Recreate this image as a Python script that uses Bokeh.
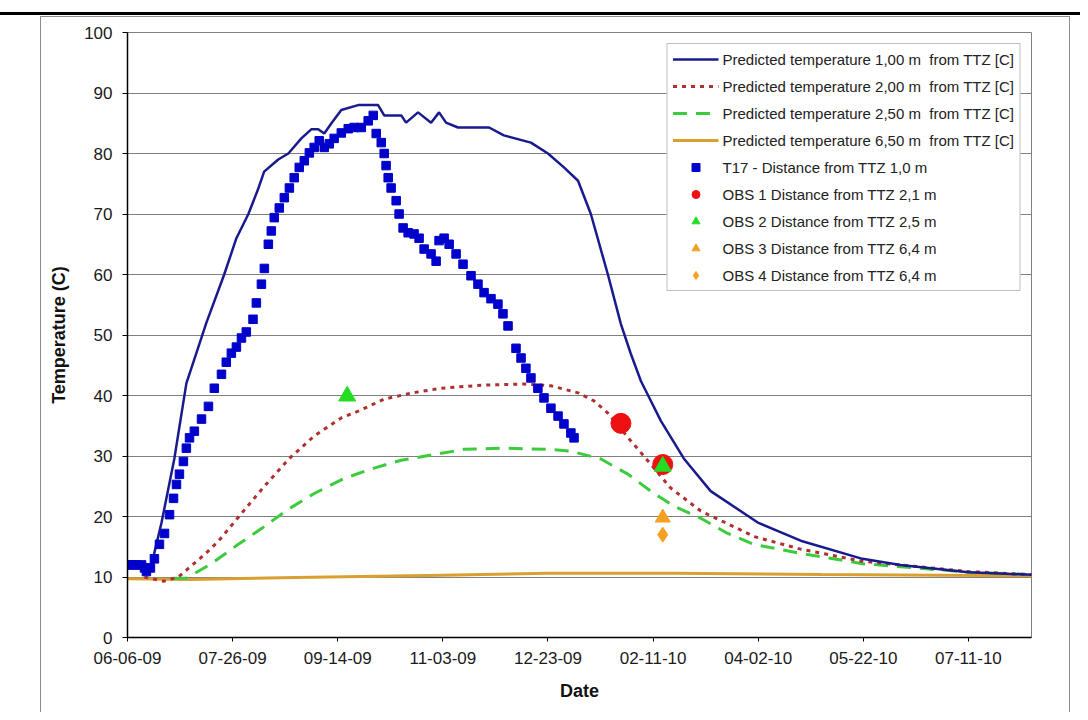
import pandas as pd
from bokeh.plotting import figure
from bokeh.models import (Range1d, FixedTicker, DatetimeTickFormatter, Legend,
                          LegendItem, InlineStyleSheet)
from bokeh.embed import file_html
from bokeh.resources import INLINE

# ---------------- data (days since start_date, temperature C) ----------------
start_date = "2009-06-06"
tick_step_days = 50
n_ticks = 9
axis_end_days = 430

pred1_day = [0, 9, 11.4, 16.2, 22.3, 28, 37.5, 46, 51.8, 57.5, 62, 65, 71.7, 76.5, 82.7,
             87.4, 90.7, 93.6, 97, 101.7, 109.7, 119.2, 122.1, 130.2, 132.5, 138.2,
             144.4, 148.2, 151.5, 157.2, 172, 179, 191.9, 200, 207.6, 214.3, 220.4,
             228.5, 234.7, 239.4, 244.2, 253.7, 264.6, 277.4, 299.8, 320.2, 349.6,
             367.7, 400, 435]
pred1_val = [12, 12, 12, 19, 29.6, 42, 52, 60, 66, 70, 74, 77, 79, 80, 82.5,
             84, 84, 83.3, 85, 87.2, 88, 88, 86.3, 86.3, 85.1, 86.8,
             85.1, 86.8, 85.1, 84.3, 84.3, 83, 81.8, 80, 77.7, 75.5, 70,
             60, 51.8, 46.9, 42.4, 35.8, 29.6, 24.2, 19, 16, 13,
             12, 10.8, 10.3]

pred2_day = [8, 17.1, 24.2, 36.6, 43.2, 54.2, 65.1, 77, 88.8, 101.7, 109.7, 122.1,
             134.9, 149.2, 168.2, 188.6, 201.4, 214.7, 221.9, 228.5, 239.4, 245.6,
             258.4, 272.7, 290.3, 297.9, 320.2, 349.6, 400, 435]
pred2_val = [10, 9.3, 10, 13.7, 15.9, 20.5, 25, 29.6, 33.3, 36.3, 37.4, 39.4,
             40.4, 41.2, 41.7, 41.9, 41.6, 40.4, 39.1, 37.1, 32.5, 30,
             24.7, 20.9, 18, 16.7, 14.6, 12.6, 10.9, 10.3]

pred25_day = [22, 28, 39.9, 52.7, 63.7, 76.5, 88.8, 103.1, 117.3, 130.2, 160.1, 177.7,
              201.4, 210.9, 225.2, 238, 248.9, 259.9, 272.7, 285.5, 297.9, 320.2,
              349.6, 400, 435]
pred25_val = [9.8, 9.8, 12.2, 15.4, 18, 21.2, 23.8, 26.3, 28, 29.3, 31.1, 31.3,
              31.1, 30.8, 29.5, 27, 24.2, 21.7, 19.7, 17.2, 15.4, 13.9,
              12.2, 10.8, 10.3]

pred65_day = [0, 30, 80, 150, 200, 260, 330, 435]
pred65_val = [9.7, 9.6, 9.9, 10.3, 10.6, 10.6, 10.4, 10.2]

t17_day = [0.5, 2.4, 4.3, 6.7, 8.1, 9, 10.9, 12.8, 15.2, 17.6, 20, 21.9, 23.3, 24.7,
           26.6, 28, 29.5, 31.8, 35.2, 38.5, 41.3, 44.7, 47, 49.4, 51.8, 54.2, 56.5,
           59.7, 61.3, 63.7, 65.1, 67, 68.4, 69.8, 72.2, 74.6, 77, 79.3, 81.7, 84.1,
           86.5, 88.8, 91.2, 93.6, 96, 98.3, 101.7, 105, 107.8, 111.2, 114.5, 116.9,
           118.3, 120.7, 122.1, 123, 124, 125.4, 127.8, 129.2, 131.1, 133.5, 136.3,
           138.7, 141.1, 144.4, 146.8, 148.2, 150.6, 153, 156.3, 159.6, 163.4, 166.7,
           169.6, 172.9, 176.2, 178.6, 181, 184.8, 187.2, 189.5, 191.9, 195.2, 198.1,
           201.4, 204.8, 207.6, 210.9, 212.4]
t17_val = [12, 12, 12, 12, 11.5, 10.9, 11.5, 13, 15.4, 17.2, 20.3, 23, 25.3, 27,
           29.1, 31.3, 33, 34.1, 36.1, 38.2, 41.2, 43.5, 45.5, 47, 48, 49.5, 50.5,
           52.6, 55.3, 58.4, 61, 65, 67.2, 69.4, 71, 72.7, 74.3, 76, 77.7, 78.8,
           80.1, 81, 82.1, 81, 81.6, 82.5, 83.4, 84.1, 84.3, 84.3, 85.4, 86.3,
           83.3, 81.8, 80, 78, 76, 74.3, 72.2, 70, 67.7, 66.9, 66.7,
           66, 64.2, 63.4, 62.2, 65.6, 66, 65, 63.4, 61.7, 59.8, 58.4,
           57, 56, 55.1, 53.5, 51.5, 47.8, 46.2, 44.5, 42.9, 41.2, 39.6,
           37.9, 36.6, 35.3, 33.8, 33]

obs1_day = [234.7, 254.6]
obs1_val = [35.4, 28.6]
obs2_day = [104.5, 254.6]
obs2_val = [39.9, 28.3]
obs3_day = [254.6]
obs3_val = [19.8]
obs4_day = [254.6]
obs4_val = [17.0]

labels = [
    "Predicted temperature 1,00 m  from TTZ [C]",
    "Predicted temperature 2,00 m  from TTZ [C]",
    "Predicted temperature 2,50 m  from TTZ [C]",
    "Predicted temperature 6,50 m  from TTZ [C]",
    "T17 - Distance from TTZ 1,0 m",
    "OBS 1 Distance from TTZ 2,1 m",
    "OBS 2 Distance from TTZ 2,5 m",
    "OBS 3 Distance from TTZ 6,4 m",
    "OBS 4 Distance from TTZ 6,4 m",
]

# ---------------- helpers ----------------
t0 = pd.Timestamp(start_date)


def to_dt(days):
    return (t0 + pd.to_timedelta(days, unit="D")).to_numpy()


tick_ms = [(t0 + pd.Timedelta(days=tick_step_days * k) - pd.Timestamp("1970-01-01")).total_seconds() * 1000.0
           for k in range(n_ticks)]

FONT = "Liberation Sans"
W, H = 1080, 712
FL, FT, FR, FB = 127, 32, 1031, 637   # frame edges in canvas pixels

p = figure(width=W, height=H, x_axis_type="datetime",
           x_range=Range1d(t0, t0 + pd.Timedelta(days=axis_end_days)),
           y_range=Range1d(0, 100),
           output_backend="svg", toolbar_location=None,
           min_border_left=FL, min_border_right=W - FR,
           min_border_top=FT, min_border_bottom=H - FB)

p.background_fill_color = "white"
p.border_fill_color = "white"
p.outline_line_color = "#808080"
p.outline_line_width = 1

# decorative page frame (document rule + chart-area border), drawn with CSS
css = """
:host { position: relative; }
:host::before {
  content: ""; position: absolute; left: 0px; top: 12px; width: 1080px; height: 3px;
  background: #000000; z-index: 20; pointer-events: none;
}
:host::after {
  content: ""; position: absolute; left: 40px; top: 16px; width: 1030px; height: 696px;
  border: 1px solid #8c8c8c; border-bottom: none; box-sizing: border-box;
  background: transparent; z-index: 20; pointer-events: none;
}
"""
p.stylesheets = [InlineStyleSheet(css=css)]

# lines
r65 = p.line(to_dt(pred65_day), pred65_val, line_color="#D9A030", line_width=3)
r25 = p.line(to_dt(pred25_day), pred25_val, line_color="#3CCB3C", line_width=3,
             line_dash="14 9")
r2 = p.line(to_dt(pred2_day), pred2_val, line_color="#B03030", line_width=3,
            line_dash="4 5")
r1 = p.line(to_dt(pred1_day), pred1_val, line_color="#1A1A8F", line_width=2.5)

# markers
rt17 = p.scatter(to_dt(t17_day), t17_val, marker="square", size=8.5,
                 fill_color="#0000CC", line_color="#0000CC")
ro1 = p.scatter(to_dt(obs1_day), obs1_val, marker="circle", size=20,
                fill_color="#EE1111", line_color="#EE1111")
ro2 = p.scatter(to_dt(obs2_day), obs2_val, marker="triangle", size=17,
                fill_color="#22DD22", line_color="#22DD22")
ro3 = p.scatter(to_dt(obs3_day), obs3_val, marker="triangle", size=15,
                fill_color="#F5A020", line_color="#F5A020")
ro4 = p.scatter(to_dt(obs4_day), obs4_val, marker="diamond", size=15,
                fill_color="#F5A020", line_color="#F5A020")

# axes
p.xaxis.ticker = FixedTicker(ticks=tick_ms)
fmt = "%m-%d-%y"
p.xaxis.formatter = DatetimeTickFormatter(days=fmt, months=fmt, years=fmt,
                                          hours=fmt, minutes=fmt, context=None)
p.yaxis.ticker = FixedTicker(ticks=list(range(0, 101, 10)))

for ax in (p.xaxis, p.yaxis):
    ax.axis_line_color = "black"
    ax.axis_line_width = 1.5
    ax.major_tick_line_color = "black"
    ax.major_tick_in = 0
    ax.minor_tick_line_color = None
    ax.major_label_text_font = FONT
    ax.major_label_text_font_size = "17px"
    ax.major_label_text_color = "#1a1a1a"
    ax.axis_label_text_font = FONT
    ax.axis_label_text_font_size = "18px"
    ax.axis_label_text_font_style = "bold"
    ax.axis_label_text_color = "#111111"

p.yaxis.major_tick_out = 5
p.yaxis.major_label_standoff = 10
p.yaxis.axis_label = "Temperature (C)"
p.yaxis.axis_label_standoff = 12
p.xaxis.major_tick_out = 4
p.xaxis.major_label_standoff = 10
p.xaxis.axis_label = "Date"
p.xaxis.axis_label_standoff = 14

p.xgrid.grid_line_color = None
p.ygrid.grid_line_color = "#808080"
p.ygrid.grid_line_width = 1

# legend
renderers = [r1, r2, r25, r65, rt17, ro1, ro2, ro3, ro4]
items = [LegendItem(label=lab, renderers=[r]) for lab, r in zip(labels, renderers)]
legend = Legend(items=items, location="top_right", margin=11,
                border_line_color="#808080", border_line_width=1,
                background_fill_color="white", background_fill_alpha=1,
                label_text_font=FONT, label_text_font_size="15px",
                label_text_color="#222222",
                glyph_width=46, glyph_height=20, label_height=20,
                spacing=7, padding=5, label_standoff=4)
p.add_layout(legend)

open("out.html", "w").write(file_html(p, INLINE))
